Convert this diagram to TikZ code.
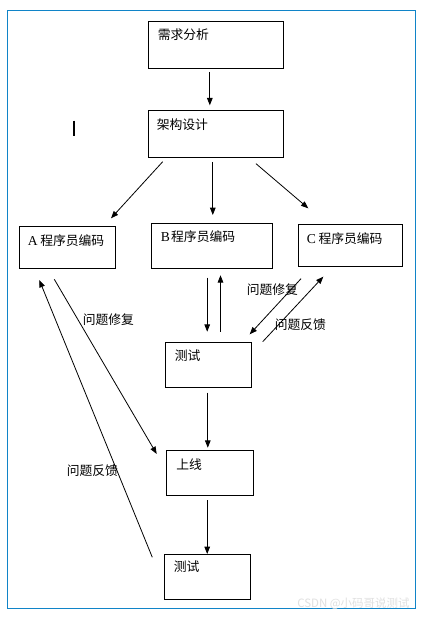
\documentclass[tikz,border=0pt]{standalone}
\usepackage{fontspec}
\setmainfont{Liberation Serif}
\newfontfamily\cjk{Noto Sans CJK SC}
\usetikzlibrary{arrows.meta,calc}
\definecolor{framecol}{RGB}{16,132,200}
\begin{document}
\begin{tikzpicture}[x=0.75pt,y=-0.75pt,
  box/.style={draw, line width=0.75pt, inner sep=0pt, anchor=north west},
  lbl/.style={anchor=west, inner sep=0pt, font=\cjk\fontsize{9.6pt}{11pt}\selectfont},
  arr/.style={line width=0.6pt, -{Triangle[length=5.5pt,width=4.2pt]}}]
\useasboundingbox (0,0) rectangle (424,620);
\fill[white] (0,0) rectangle (424,620);
\draw[framecol, line width=1.1pt] (7.3,10.3) rectangle (415.7,608.3);
% boxes
\node[box, minimum width=135*0.75pt, minimum height=47*0.75pt] (req) at (148.3,21.3) {};
\node[box, minimum width=134.4*0.75pt, minimum height=47*0.75pt] (arch) at (148.3,110.3) {};
\node[box, minimum width=95.4*0.75pt, minimum height=42.3*0.75pt] (pa) at (19.3,226) {};
\node[box, minimum width=121*0.75pt, minimum height=45*0.75pt] (pb) at (151.3,223.3) {};
\node[box, minimum width=104.3*0.75pt, minimum height=42*0.75pt] (pc) at (298,224.3) {};
\node[box, minimum width=86*0.75pt, minimum height=45*0.75pt] (t1) at (165.3,342.3) {};
\node[box, minimum width=87*0.75pt, minimum height=45*0.75pt] (on) at (166.3,450.3) {};
\node[box, minimum width=86*0.75pt, minimum height=45*0.75pt] (t2) at (164.3,554.3) {};
% box texts
\node[lbl] (reqt) at (157.5,35) {需求分析};
\node[lbl] (archt) at (156.5,125) {架构设计};
\node[lbl] (pat) at (27.5,240.7) {\rmfamily\fontsize{10.2pt}{11pt}\selectfont A\hspace{2pt}\cjk\fontsize{9.6pt}{11pt}\selectfont 程序员编码};
\node[lbl] (pbt) at (160.5,236.7) {\rmfamily\fontsize{10.2pt}{11pt}\selectfont B\hspace{1pt}\cjk\fontsize{9.6pt}{11pt}\selectfont 程序员编码};
\node[lbl] (pct) at (306.5,238.3) {\rmfamily\fontsize{10.2pt}{11pt}\selectfont C\hspace{2pt}\cjk\fontsize{9.6pt}{11pt}\selectfont 程序员编码};
\node[lbl] (t1t) at (174.5,356) {测试};
\node[lbl] (ont) at (176,464.3) {上线};
\node[lbl] (t2t) at (173.5,566.7) {测试};
% connector labels
\node[lbl] (fix1) at (82.5,320) {问题修复};
\node[lbl] (fix2) at (246.5,289.3) {问题修复};
\node[lbl] (fb1) at (274.5,324.3) {问题反馈};
\node[lbl] (fb2) at (66.5,471) {问题反馈};
% cursor bar
\draw[line width=1.5pt] (73.7,120.7) -- (73.7,135.7);
% connectors
\draw[arr] ($(req.south)+(-6.5,2.7)$) -- ($(arch.north)+(-6.2,-5)$);
\draw[arr] ($(arch.south west)+(14.4,3.4)$) -- ($(pa.north east)+(-4.7,-7.7)$);
\draw[arr] ($(arch.south)+(-3.2,3.7)$) -- ($(pb.north)+(0.5,-8.3)$);
\draw[arr] ($(arch.south east)+(-27.7,5.4)$) -- ($(pc.north west)+(10.3,-16)$);
\draw[arr] ($(pb.south)+(-5.1,8.4)$) -- ($(t1.north)+(-1.6,-10.6)$);
\draw[arr] ($(t1.north)+(11.7,-10.6)$) -- ($(pb.south)+(8.2,6)$);
\draw[arr] ($(pc.south west)+(3,11.4)$) -- ($(t1.north east)+(-2.6,-8)$);
\draw[arr] ($(t1.north east)+(10.4,-0.6)$) -- ($(pc.south west)+(25.3,9.4)$);
\draw[arr] ($(t1.south)+(-1,4.4)$) -- ($(on.north)+(-2.5,-2.6)$);
\draw[arr] ($(pa.south west)+(35,10)$) -- ($(on.north west)+(-9.6,3.7)$);
\draw[arr] ($(t2.north west)+(-12,3)$) -- ($(pa.south west)+(20,10.7)$);
\draw[arr] ($(on.south)+(-3.1,3.7)$) -- ($(t2.north)+(-0.6,-0.3)$);
% watermark
\node[anchor=west, inner sep=0pt, text=black!12, font=\cjk\fontsize{8.6pt}{10pt}\selectfont] (wm) at (297,604) {CSDN @小码哥说测试};
\end{tikzpicture}
\end{document}
